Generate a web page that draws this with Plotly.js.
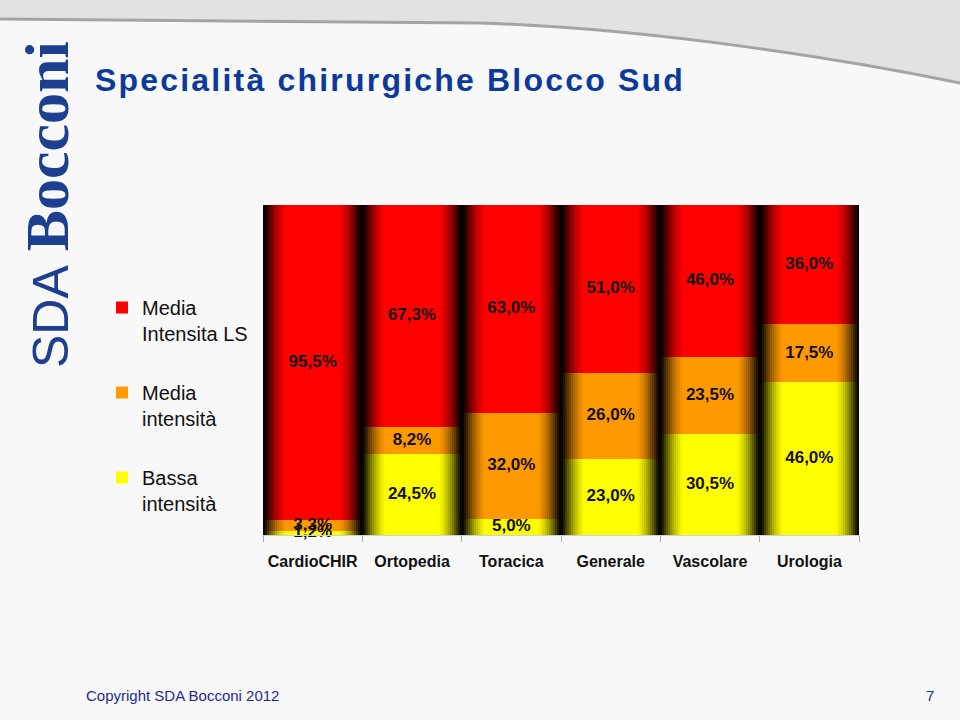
<!DOCTYPE html>
<html>
<head>
<meta charset="utf-8">
<script src="https://cdn.plot.ly/plotly-3.0.1.min.js"></script>
<style>
html,body{margin:0;padding:0;background:#fafafa;}
#chart{width:960px;height:720px;}
</style>
</head>
<body>
<div id="chart"></div>
<script>
// ---- data ----
const categories = ['CardioCHIR', 'Ortopedia', 'Toracica', 'Generale', 'Vascolare', 'Urologia'];
const bassa   = [1.2, 24.5, 5.0, 23.0, 30.5, 46.0];
const media   = [3.3, 8.2, 32.0, 26.0, 23.5, 17.5];
const mediaLS = [95.5, 67.3, 63.0, 51.0, 46.0, 36.0];
const seriesNames = ['Bassa<br>intensità', 'Media<br>intensità', 'Media<br>Intensita LS'];
const titleText = 'Specialità chirurgiche Blocco Sud';
const footerText = 'Copyright SDA Bocconi 2012';
const pageNumber = '7';

// ---- styling ----
const seriesValues = [bassa, media, mediaLS];
const seriesRGB = [[255, 255, 0], [255, 153, 0], [255, 0, 0]];
const FONT = 'Liberation Sans, Arial, sans-serif';

// plot area in pixels
const L = 263, R = 859, T = 205, B = 535, W = 960, H = 720;
const px2x = p => (p - L) / (R - L);
const py2y = p => (B - p) / (B - T);

// 100% stacked: normalise by category totals
const totals = categories.map((c, i) => seriesValues.reduce((s, arr) => s + arr[i], 0));

// gradient layers (wide & dark -> narrow & bright)
const layerWidths = [];
for (let w = 1.0; w >= 0.5; w -= 0.04) layerWidths.push(+w.toFixed(3));
function brightness(w) {
  if (w <= 0.54) return 1;
  const t = Math.min(1, (w - 0.54) / 0.46);
  return Math.max(0.03, 1 - Math.pow(t, 1.5));
}
const fmt = v => v.toFixed(1).replace('.', ',') + '%';

const traces = [];
const cum = categories.map(() => 0);
const labelX = [], labelY = [], labelT = [];
seriesValues.forEach((vals, si) => {
  const base = cum.slice();
  const heights = vals.map((v, i) => v / totals[i] * 100);
  const rgb = seriesRGB[si];
  layerWidths.forEach((w, li) => {
    const b = brightness(w);
    const col = `rgb(${Math.round(rgb[0]*b)},${Math.round(rgb[1]*b)},${Math.round(rgb[2]*b)})`;
    const last = li === layerWidths.length - 1;
    traces.push({
      type: 'bar',
      x: categories,
      y: heights,
      base: base,
      width: categories.map(() => w),
      name: seriesNames[si],
      legendgroup: 'g' + si,
      legendrank: 10 - si,
      showlegend: last,
      marker: {color: col, line: {width: 0}},
      hoverinfo: 'skip'
    });
  });
  heights.forEach((h, i) => {
    labelX.push(categories[i]);
    labelY.push(base[i] + h / 2);
    labelT.push(fmt(vals[i]));
    cum[i] += h;
  });
});
traces.push({
  type: 'scatter', mode: 'text',
  x: labelX, y: labelY, text: labelT,
  textfont: {family: FONT, size: 17, color: '#151010', weight: 'bold'},
  textposition: 'middle center',
  showlegend: false, hoverinfo: 'skip', cliponaxis: false
});

// decorative top band (curved)
const bandPath = 'M ' + px2x(-5) + ',' + py2y(-5) +
  ' L ' + px2x(965) + ',' + py2y(-5) +
  ' L ' + px2x(965) + ',' + py2y(84) +
  ' C ' + px2x(850) + ',' + py2y(60) + ' ' + px2x(650) + ',' + py2y(28) + ' ' + px2x(480) + ',' + py2y(23) +
  ' L ' + px2x(-5) + ',' + py2y(19) + ' Z';

const layout = {
  width: W, height: H,
  paper_bgcolor: '#f8f8f8',
  plot_bgcolor: 'rgba(0,0,0,0)',
  margin: {l: L, r: W - R, t: T, b: H - B, pad: 0},
  barmode: 'overlay',
  bargap: 0,
  font: {family: FONT, color: '#111'},
  title: {
    text: '<b>' + titleText + '</b>',
    font: {family: FONT, size: 32, color: '#0b3a9c'},
    xref: 'container', yref: 'container',
    x: 95 / W, xanchor: 'left',
    y: 1 - 80 / H, yanchor: 'middle'
  },
  xaxis: {
    type: 'category',
    tickson: 'boundaries',
    ticks: 'outside', ticklen: 6, tickcolor: '#a8a8a8', tickwidth: 1,
    showline: true, linecolor: '#d0d0d0', linewidth: 1,
    showgrid: false, zeroline: false,
    tickfont: {family: FONT, size: 16, color: '#111', weight: 'bold'},
    ticklabelstandoff: 12,
    fixedrange: true
  },
  yaxis: {
    range: [0, 100], visible: false, showgrid: false, zeroline: false, fixedrange: true
  },
  legend: {
    xref: 'container', yref: 'container',
    x: 102 / W, xanchor: 'left',
    y: 1 - 288 / H, yanchor: 'top',
    traceorder: 'grouped',
    tracegroupgap: 30,
    valign: 'top',
    bgcolor: 'rgba(0,0,0,0)',
    font: {family: FONT, size: 20, color: '#111'}
  },
  shapes: [{
    type: 'path', xref: 'paper', yref: 'paper', layer: 'below',
    path: bandPath,
    fillcolor: '#e2e2e2',
    line: {color: '#a4a4a4', width: 3}
  }],
  annotations: [
    {
      xref: 'paper', yref: 'paper',
      x: px2x(47), y: py2y(205),
      xanchor: 'center', yanchor: 'middle',
      textangle: -90, showarrow: false,
      text: '<span style="font-family:Liberation Sans;font-size:50px">SDA</span> <span style="font-family:Liberation Serif;font-size:62px;font-weight:bold">Bocconi</span>',
      font: {family: FONT, size: 50, color: '#1c3f8f'}
    },
    {
      xref: 'paper', yref: 'paper',
      x: px2x(84), y: py2y(695),
      xanchor: 'left', yanchor: 'middle', showarrow: false,
      text: footerText,
      font: {family: FONT, size: 15, color: '#1f2d8a'}
    },
    {
      xref: 'paper', yref: 'paper',
      x: px2x(936), y: py2y(695),
      xanchor: 'right', yanchor: 'middle', showarrow: false,
      text: pageNumber,
      font: {family: FONT, size: 15, color: '#1f2d8a'}
    }
  ]
};

Plotly.newPlot('chart', traces, layout, {displayModeBar: false, staticPlot: true}).then(gd => {
  const t = gd.querySelector('.gtitle');
  if (t) t.style.letterSpacing = '2.2px';
});
</script>
</body>
</html>
